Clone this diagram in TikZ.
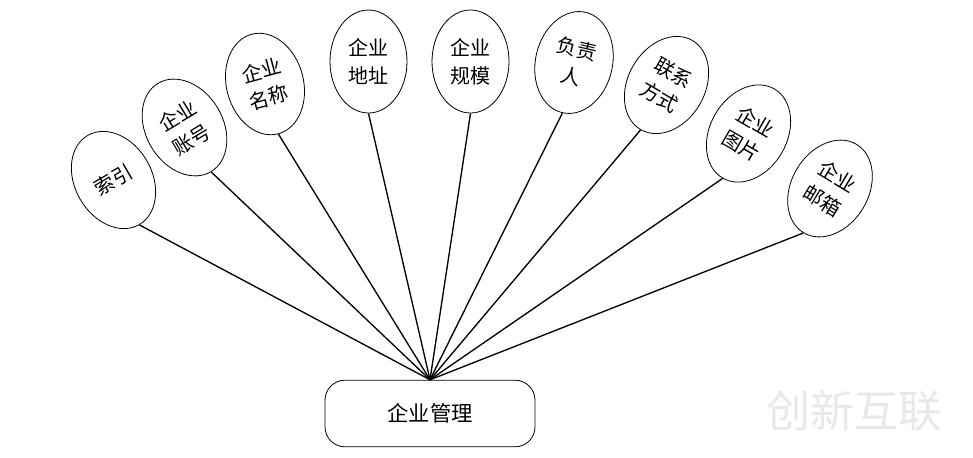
\documentclass[tikz,border=0pt]{standalone}
\usepackage{fontspec}
\newfontfamily\cjk{Noto Sans CJK SC}
\usetikzlibrary{shapes.geometric}
\begin{document}
\begin{tikzpicture}[x=0.75pt,y=-0.75pt,
  attr/.style={ellipse,draw,line width=0.6pt,minimum width=57.75pt,minimum height=77.25pt,inner sep=0pt,align=center,font=\cjk\fontsize{15}{21}\selectfont},
  ent/.style={draw,rounded corners=15pt,line width=0.6pt,minimum width=157.5pt,minimum height=50pt,font=\cjk\fontsize{16}{20}\selectfont},
  link/.style={line width=1pt}]
\useasboundingbox (0,0) rectangle (973,457);
\node[ent] (m) at (430,413.5) {企业管理};
\coordinate (hub) at (m.north);
\node[attr,rotate=30] (a1) at (113.5,180) {索引};
\node[attr,rotate=31] (a2) at (184.5,127.5) {企业\\账号};
\node[attr,rotate=15] (a3) at (265,84) {企业\\名称};
\node[attr] (a4) at (368.5,61.5) {企业\\地址};
\node[attr] (a5) at (470.5,61.5) {企业\\规模};
\node[attr,rotate=-13] (a6) at (574,62.5) {负责\\人};
\node[attr,rotate=-30] (a7) at (666.5,85) {联系\\方式};
\node[attr,rotate=-30] (a8) at (748.5,133.5) {企业\\图片};
\node[attr,rotate=-31] (a9) at (830,188.5) {企业\\邮箱};
\foreach \i in {1,...,9} \draw[link] (a\i.south) -- (hub);
\node[text=gray!18,font=\cjk\fontsize{33}{36}\selectfont] (wm) at (854,411) {创新互联};
\end{tikzpicture}
\end{document}
